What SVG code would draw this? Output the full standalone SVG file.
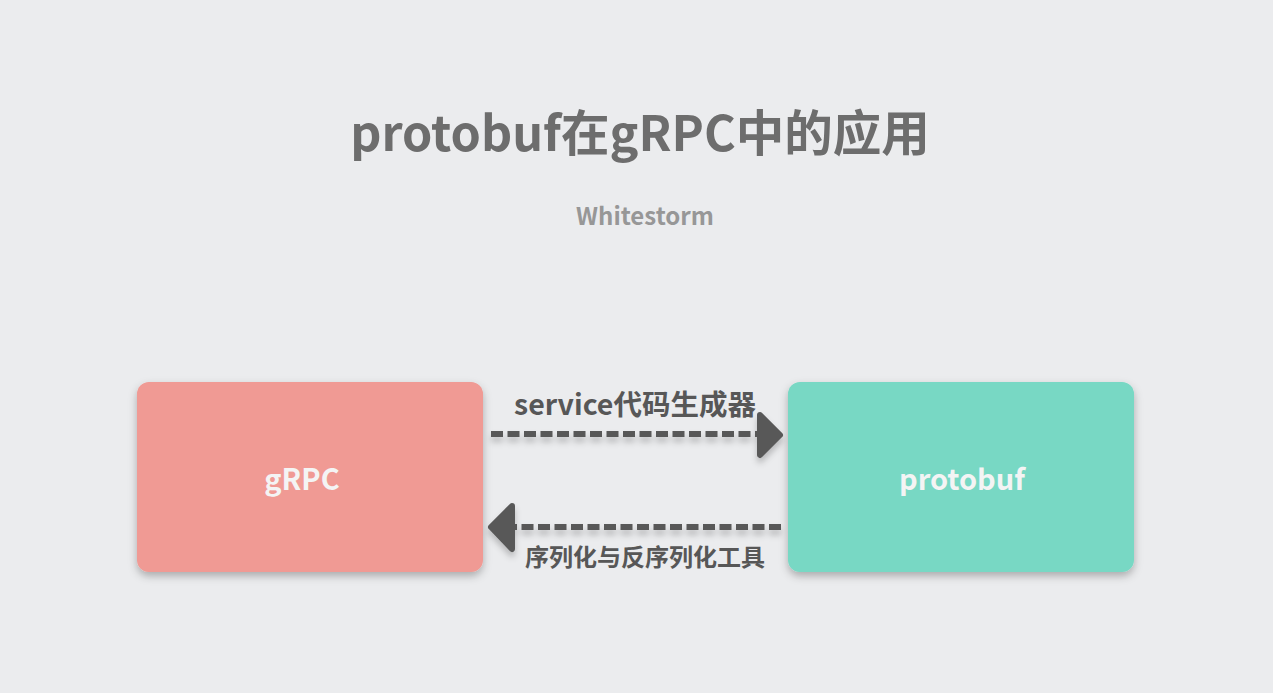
<svg xmlns="http://www.w3.org/2000/svg" width="1273" height="693" viewBox="0 0 1273 693">
  <style>
    text { font-family: "Noto Sans CJK SC", "Noto Sans", sans-serif; font-weight: bold; text-anchor: middle; }
    .title { font-size: 48.5px; fill: #6d6d6d; }
    .sub { font-size: 24px; fill: #979797; }
    .nodelabel { font-size: 29px; fill: #f4f4f4; }
    .elabel { fill: #575757; }
    .dash { stroke: #595959; stroke-width: 6; stroke-dasharray: 12 4.5; fill: none; }
    .head { fill: #595959; stroke: #595959; stroke-width: 6; stroke-linejoin: round; }
  </style>
  <defs>
    <filter id="shadow" x="-20%" y="-20%" width="140%" height="150%">
      <feDropShadow dx="0" dy="4" stdDeviation="4" flood-color="#000" flood-opacity="0.28"/>
    </filter>
    <filter id="lshadow" x="-10%" y="-100%" width="120%" height="400%">
      <feDropShadow dx="0" dy="5" stdDeviation="3" flood-color="#000" flood-opacity="0.22"/>
    </filter>
  </defs>
  <rect width="1273" height="693" fill="#ebecee"/>
  <text class="title" x="640" y="151">protobuf在gRPC中的应用</text>
  <text class="sub" x="645" y="225">Whitestorm</text>

  <g id="node-grpc">
    <rect x="137" y="382" width="346" height="190" rx="12" fill="#f09a94" filter="url(#shadow)"/>
    <text class="nodelabel" x="302" y="490">gRPC</text>
  </g>
  <g id="node-protobuf">
    <rect x="788" y="382" width="346" height="190" rx="12" fill="#78d8c4" filter="url(#shadow)"/>
    <text class="nodelabel" x="962" y="490">protobuf</text>
  </g>

  <g id="connectors">
    <g filter="url(#lshadow)">
      <line class="dash" x1="491" y1="434" x2="760" y2="434"/>
      <polygon class="head" points="760,415 780,435 760,455"/>
    </g>
    <text class="elabel" x="635" y="415" font-size="28.5">service代码生成器</text>
    <g filter="url(#lshadow)">
      <line class="dash" x1="781" y1="527" x2="514" y2="527"/>
      <polygon class="head" points="512,506 491,527 512,549"/>
    </g>
    <text class="elabel" x="645" y="566" font-size="24">序列化与反序列化工具</text>
  </g>
</svg>
